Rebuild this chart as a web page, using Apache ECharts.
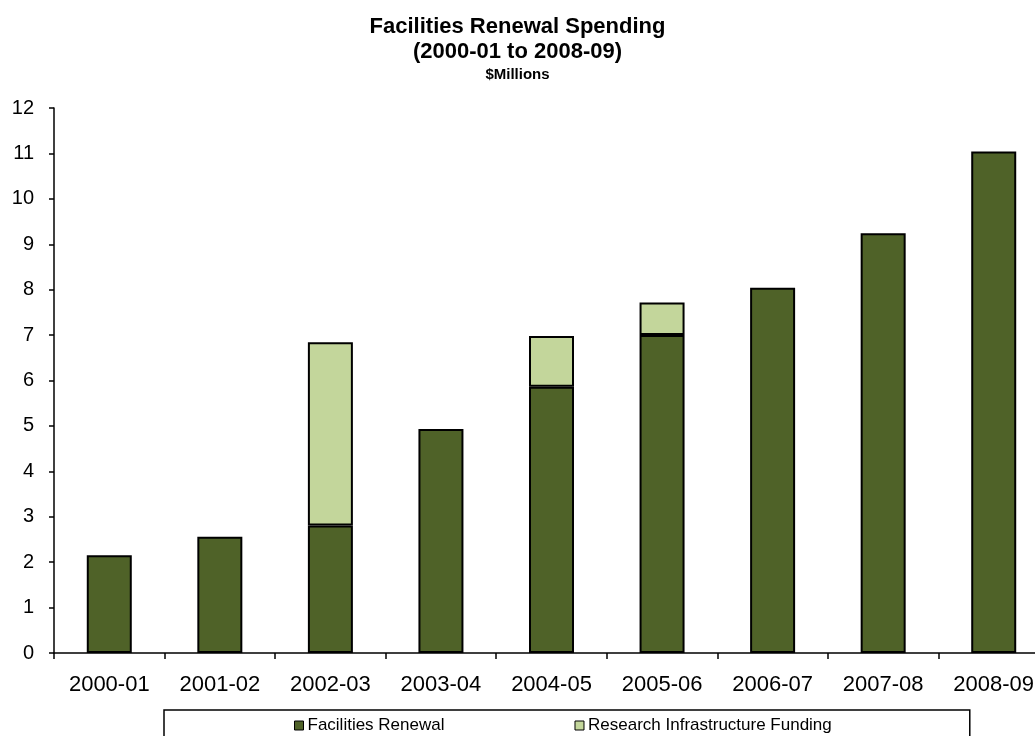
<!DOCTYPE html>
<html>
<head>
<meta charset="utf-8">
<script src="https://cdn.jsdelivr.net/npm/echarts@6/dist/echarts.min.js"></script>
<style>
html,body{margin:0;padding:0;background:#fff;}
#chart{width:1035px;height:736px;}
</style>
</head>
<body>
<div id="chart"></div>
<script>
const categories = ['2000-01','2001-02','2002-03','2003-04','2004-05','2005-06','2006-07','2007-08','2008-09'];
const facilitiesRenewal = [2.15, 2.56, 2.81, 4.93, 5.86, 7.0, 8.04, 9.24, 11.04];
const researchInfrastructure = [null, null, 4.03, null, 1.12, 0.72, null, null, null];
const yTicks = {min: 0, max: 12, interval: 1};

const FONT = '"Liberation Sans", Arial, sans-serif';
const chart = echarts.init(document.getElementById('chart'));
chart.setOption({
  animation: false,
  backgroundColor: '#ffffff',
  textStyle: {fontFamily: FONT, color: '#000'},
  title: {
    text: 'Facilities Renewal Spending\n(2000-01 to 2008-09)',
    subtext: '$Millions',
    left: 'center',
    top: 9,
    itemGap: 3,
    textStyle: {fontFamily: FONT, fontSize: 22, fontWeight: 'bold', color: '#000', lineHeight: 25},
    subtextStyle: {fontFamily: FONT, fontSize: 15, fontWeight: 'bold', color: '#000', lineHeight: 16}
  },
  grid: {left: 54, width: 995, top: 108, bottom: 83, containLabel: false, outerBoundsMode: 'none'},
  legend: {
    left: 164,
    top: 710,
    padding: [7, 138, 30, 130],
    itemGap: 130,
    itemWidth: 9,
    itemHeight: 9,
    icon: 'rect',
    borderColor: '#000',
    borderWidth: 1.5,
    itemStyle: {borderColor: '#000', borderWidth: 1},
    textStyle: {fontFamily: FONT, fontSize: 17, color: '#000', padding: [0, 0, 0, -1]},
    data: ['Facilities Renewal', 'Research Infrastructure Funding']
  },
  xAxis: {
    type: 'category',
    data: categories,
    boundaryGap: true,
    axisLine: {lineStyle: {color: '#000', width: 1.5}},
    axisTick: {show: true, alignWithLabel: false, length: 6, lineStyle: {color: '#000', width: 1.5}},
    axisLabel: {fontFamily: FONT, fontSize: 22, color: '#000', margin: 21, interval: 0, hideOverlap: false}
  },
  yAxis: {
    type: 'value',
    min: yTicks.min,
    max: yTicks.max,
    interval: yTicks.interval,
    splitLine: {show: false},
    axisLine: {show: true, lineStyle: {color: '#000', width: 1.5}},
    axisTick: {show: true, length: 5, lineStyle: {color: '#000', width: 1.5}},
    axisLabel: {fontFamily: FONT, fontSize: 20, color: '#000', margin: 20}
  },
  series: [
    {
      name: 'Facilities Renewal',
      type: 'bar',
      stack: 'total',
      barWidth: 45,
      data: facilitiesRenewal,
      itemStyle: {color: '#4F6228', borderColor: '#000', borderWidth: 2}
    },
    {
      name: 'Research Infrastructure Funding',
      type: 'bar',
      stack: 'total',
      barWidth: 45,
      data: researchInfrastructure,
      itemStyle: {color: '#C3D69B', borderColor: '#000', borderWidth: 2}
    }
  ]
});
</script>
</body>
</html>
